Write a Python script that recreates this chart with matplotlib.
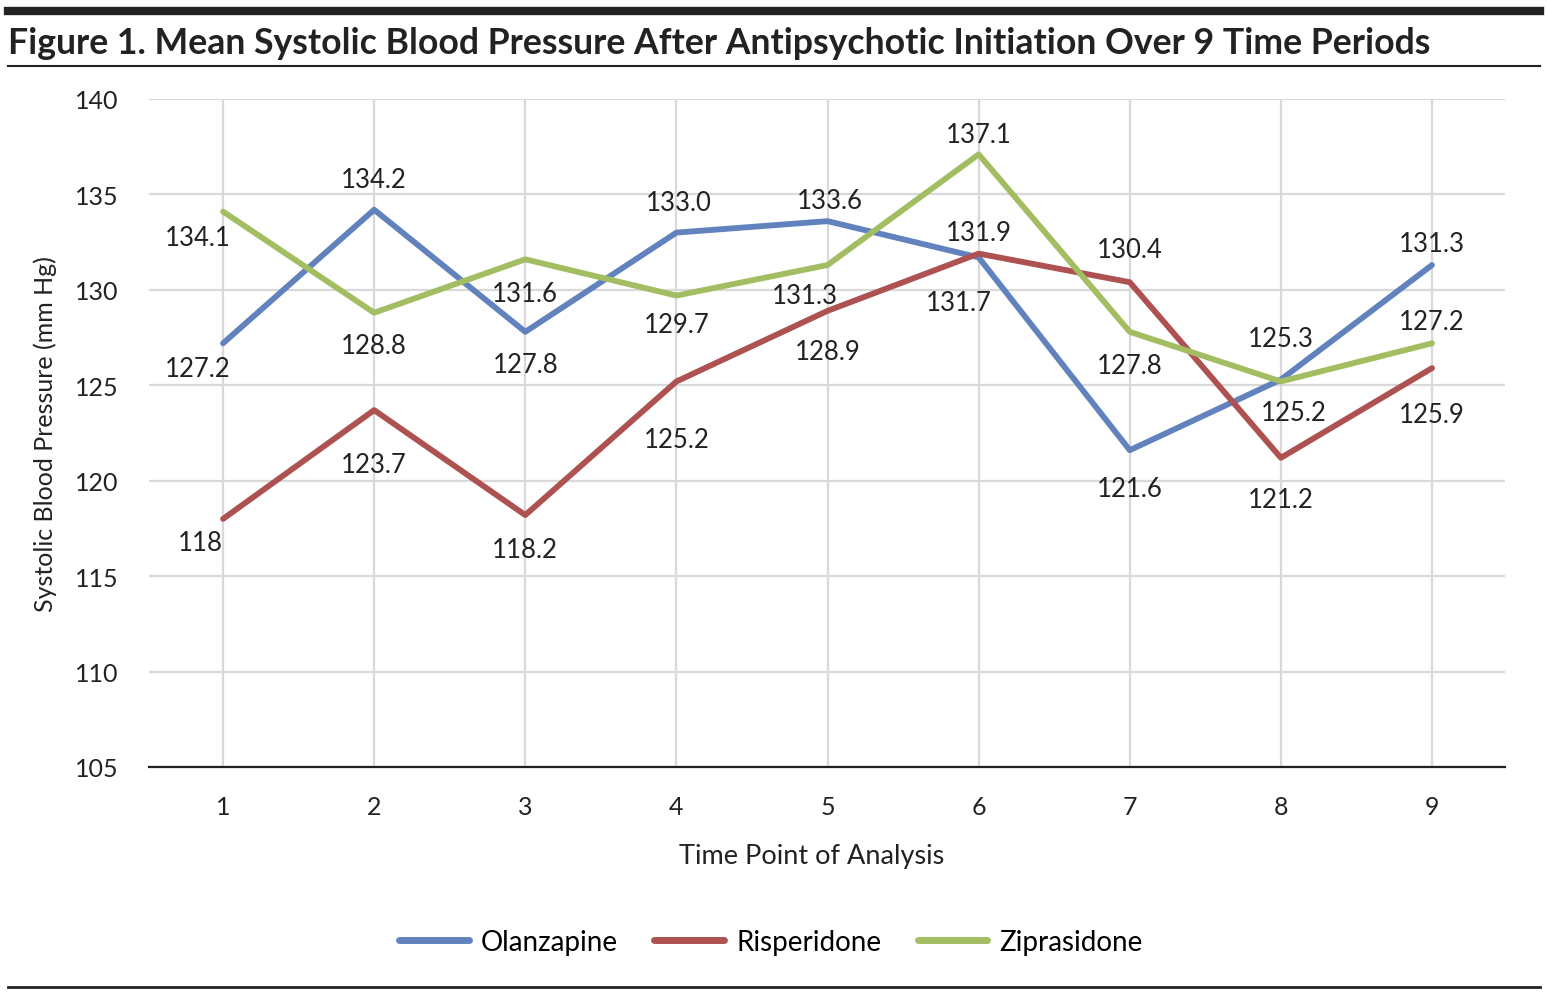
import matplotlib.pyplot as plt
from matplotlib.lines import Line2D

# dados
pontos = [1, 2, 3, 4, 5, 6, 7, 8, 9]
olanzapina = [127.2, 134.2, 127.8, 133.0, 133.6, 131.7, 121.6, 125.3, 131.3]
risperidona = [118, 123.7, 118.2, 125.2, 128.9, 131.9, 130.4, 121.2, 125.9]
ziprasidona = [134.1, 128.8, 131.6, 129.7, 131.3, 137.1, 127.8, 125.2, 127.2]

rot_olanz = ["127.2", "134.2", "127.8", "133.0", "133.6", "131.7", "121.6", "125.3", "131.3"]
rot_risp = ["118", "123.7", "118.2", "125.2", "128.9", "131.9", "130.4", "121.2", "125.9"]
rot_zipr = ["134.1", "128.8", "131.6", "129.7", "131.3", "137.1", "127.8", "125.2", "127.2"]

# deslocamento dos rotulos em pixels (dx, dy para baixo)
dx_olanz = [-25, 0, 0, 2, 2, -20, 0, 0, 0]
dy_olanz = [22, -33, 30, -33, -24, 42, 35, -44, -25]
dx_risp = [-23, 0, 0, 0, 0, 0, 0, 0, 0]
dy_risp = [21, 51, 31, 55, 38, -24, -36, 39, 43]
dx_zipr = [-25, 0, 0, 0, -23, 0, 0, 13, 0]
dy_zipr = [23, 30, 31, 26, 27, -23, 31, 28, -25]

series = [
    ("Olanzapine", olanzapina, rot_olanz, dx_olanz, dy_olanz, "#6282be"),
    ("Risperidone", risperidona, rot_risp, dx_risp, dy_risp, "#ad5251"),
    ("Ziprasidone", ziprasidona, rot_zipr, dx_zipr, dy_zipr, "#a3bd62"),
]

plt.rcParams['font.family'] = ['Lato', 'DejaVu Sans']
cor_texto = '#222222'
px = 72 / 100  # pixels -> pontos

fig = plt.figure(figsize=(15.47, 9.95), dpi=100)
ax = fig.add_axes([149 / 1547, 1 - 768 / 995, (1505 - 149) / 1547, (768 - 100) / 995])

for nome, vals, rots, dxs, dys, cor in series:
    ax.plot(pontos, vals, color=cor, lw=4.2, label=nome, solid_capstyle='round', zorder=3)
    for x, y, r, dx, dy in zip(pontos, vals, rots, dxs, dys):
        ax.annotate(r, (x, y), xytext=(dx * px, -(dy + 3) * px), textcoords='offset points',
                    ha='center', va='center', fontsize=18.5, color=cor_texto, zorder=4)

ax.set_xlim(0.51, 9.483)
ax.set_ylim(105, 140)
ax.set_xticks(pontos)
ax.set_yticks(range(105, 141, 5))
ax.grid(True, color='#d9d9d9', lw=1.6, zorder=0)
for s in ['top', 'right', 'left']:
    ax.spines[s].set_visible(False)
ax.spines['bottom'].set_color(cor_texto)
ax.spines['bottom'].set_linewidth(1.6)
ax.tick_params(length=0, labelsize=18, colors=cor_texto)
ax.tick_params(axis='x', pad=20)
ax.tick_params(axis='y', pad=22)
ax.set_xlabel("Time Point of Analysis", fontsize=19.5, color=cor_texto)
ax.xaxis.set_label_coords((812 - 149) / 1356, -(857 - 768) / 668)
ax.xaxis.label.set_va('center')
ax.set_ylabel("Systolic Blood Pressure (mm Hg)", fontsize=18, color=cor_texto)
ax.yaxis.set_label_coords((45 - 149) / 1356, 0.5)
ax.yaxis.label.set_va('center')

handles = [Line2D([0], [0], color=s[5], lw=5, solid_capstyle='round') for s in series]
fig.legend(handles, [s[0] for s in series], loc='center', bbox_to_anchor=(771 / 1547, 1 - 943 / 995),
           ncol=3, frameon=False, fontsize=20, handlelength=2.5, columnspacing=1.3, handletextpad=0.45)

# titulo e linhas
fig.add_artist(Line2D([8 / 1547, 1540 / 1547], [1 - 12 / 995, 1 - 12 / 995], color=cor_texto, lw=6))
fig.add_artist(Line2D([8 / 1547, 1540 / 1547], [1 - 67 / 995, 1 - 67 / 995], color=cor_texto, lw=1.5))
fig.add_artist(Line2D([8 / 1547, 1540 / 1547], [1 - 988 / 995, 1 - 988 / 995], color=cor_texto, lw=2))
fig.text(8 / 1547, 1 - 43 / 995, "Figure 1. Mean Systolic Blood Pressure After Antipsychotic Initiation Over 9 Time Periods",
         ha='left', va='center', fontsize=25.7, fontweight='bold', color=cor_texto)

fig.savefig("out.png", dpi=100)
